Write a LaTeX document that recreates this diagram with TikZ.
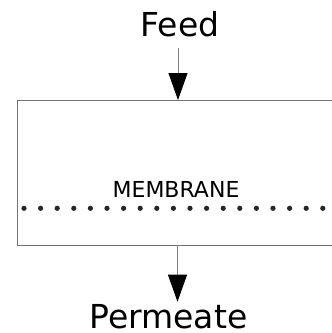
\documentclass[tikz,border=0pt]{standalone}
\usepackage{fontspec}
\setmainfont{DejaVu Sans}
\usetikzlibrary{arrows.meta}

\begin{document}
\begin{tikzpicture}[
    x=1pt, y=-1pt,
    unit/.style={draw=gray!90!black, line width=1.1pt, minimum width=330pt,
                 minimum height=145pt, anchor=north west, inner sep=0pt},
    label/.style={anchor=base, inner sep=0pt, font=\fontsize{33}{36}\selectfont},
    flow/.style={draw=gray, line width=1pt,
                 -{Triangle[black, width=19pt, length=27pt]}},
    pore/.style={fill=black!85}
]
\useasboundingbox (0,0) rectangle (332,333);

% Module body
\node[unit] (box) at (17,100) {};

% Streams
\node[label] (feed) at (180,36.7) {Feed};
\node[label] (perm) at (168.5,328) {Permeate};
\node[anchor=base, inner sep=0pt, font=\fontsize{22}{24}\selectfont] (mem) at (176,197.3) {MEMBRANE};

% Membrane pores
\foreach \i in {0,...,18}
    \fill[pore] (24+16.6*\i,208.3) circle (2.6);

% Connections
\coordinate (feedout) at (178,48);
\coordinate (boxin) at (178,100);
\coordinate (boxout) at (177.5,245);
\coordinate (permin) at (177.5,301.7);
\draw[flow] (feedout) -- (boxin);
\draw[flow] (boxout) -- (permin);

\end{tikzpicture}
\end{document}
